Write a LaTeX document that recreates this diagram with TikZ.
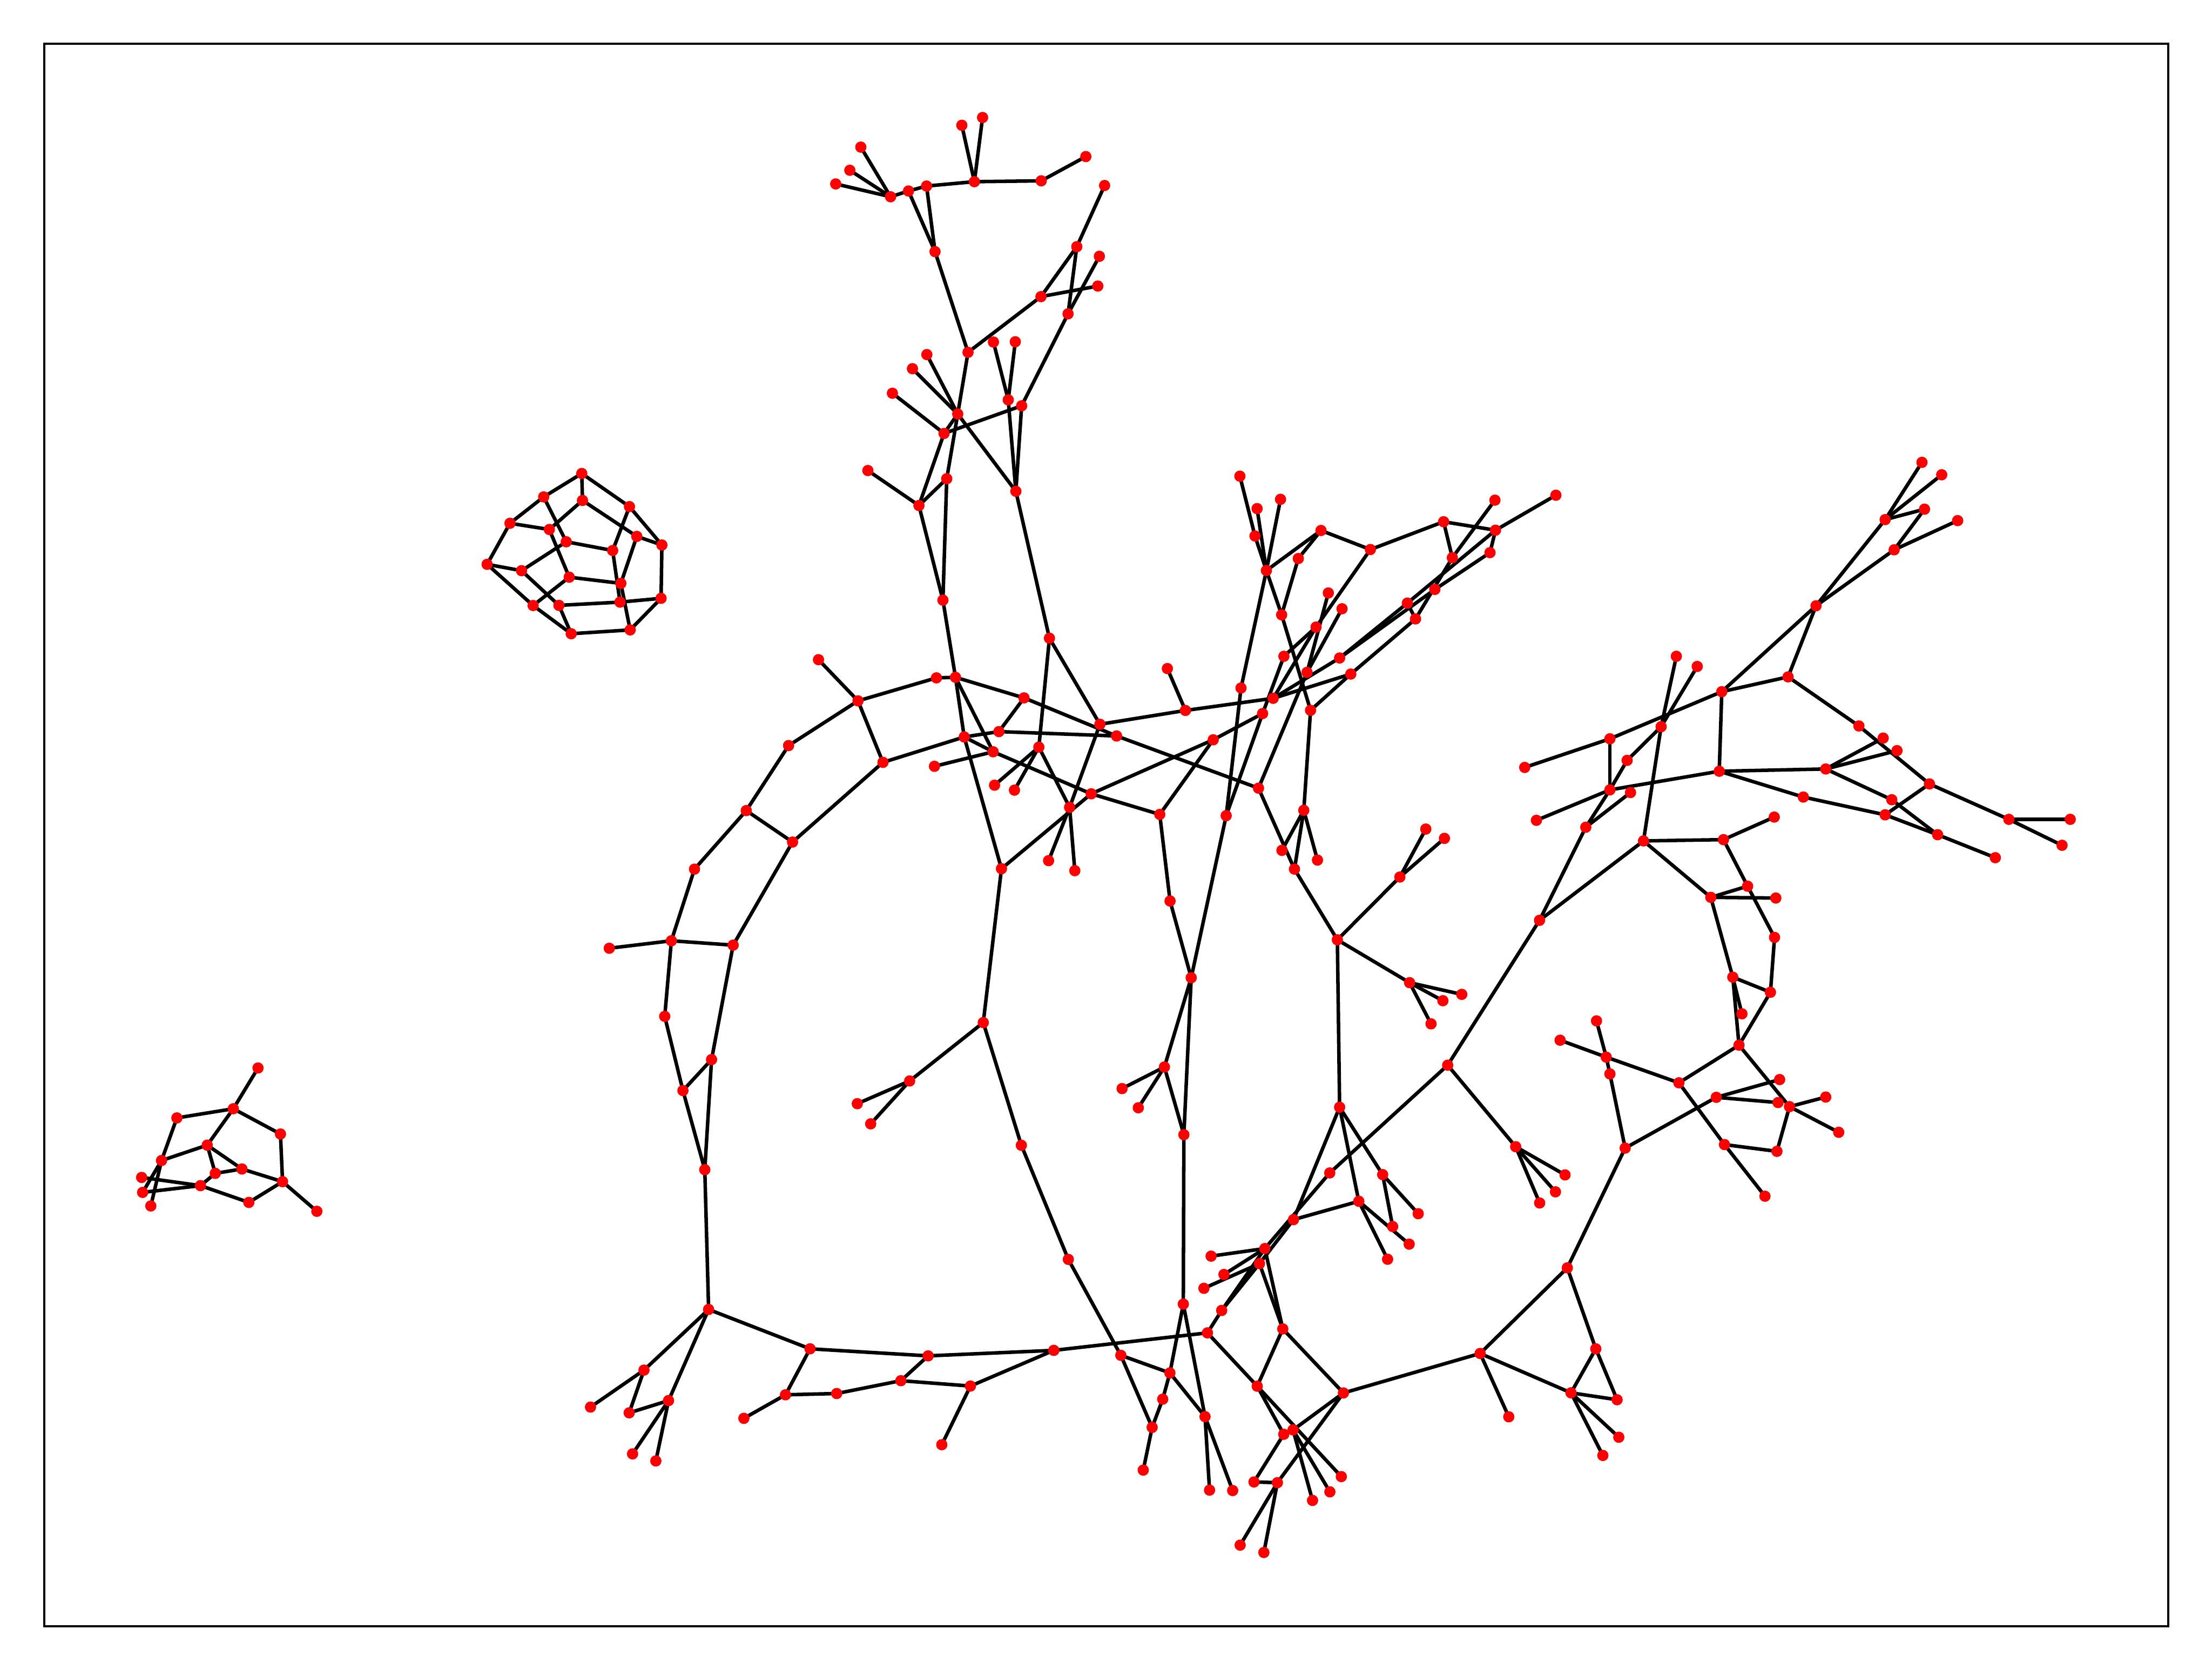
\documentclass[tikz,border=0pt]{standalone}
\usetikzlibrary{backgrounds}
\begin{document}
\begin{tikzpicture}[x=0.3pt,y=-0.3pt,
  dot/.style={circle,fill=red,draw=none,inner sep=0pt,minimum size=2.4pt},
  edge/.style={line width=0.75pt,black},
  frame/.style={line width=0.5pt,black}]
\useasboundingbox (0,0) rectangle (1568,1184);
% nodes
\foreach \n/\x/\y in {
t1/592.4/130.4, t2/602.4/120.7, t3/610.2/104.3, t4/631.3/139.5, t5/644.0/135.4, t6/656.8/131.9, t7/690.7/128.8, t8/681.8/88.8, t9/696.5/83.3, t10/738.1/128.2, t11/769.7/111.0, t12/783.0/131.5, t13/662.8/178.4, t14/763.3/174.9, t15/779.3/181.7, t16/778.2/202.8, t17/737.9/210.3, t18/757.1/222.5, t19/686.2/249.8, t20/704.2/242.5, t21/719.7/242.3, t22/657.0/251.4, t23/646.8/261.4, t24/632.6/278.8, t25/678.9/293.5, t26/669.2/307.3, t27/714.7/283.5, t28/724.2/287.7, t29/615.2/333.6, t30/651.4/358.4, t31/671.1/339.4, t32/720.1/348.3,
m1/668.4/425.5, m2/743.9/452.5, m3/580.2/467.7, m4/608.2/496.9, m5/663.8/480.6, m6/677.3/480.2, m7/725.9/494.8, m8/779.7/513.5, m9/827.5/474.0, m10/840.3/503.7, m11/791.5/521.8, m12/708.1/518.7, m13/683.5/522.5, m14/704.0/533.0, m15/625.9/540.5, m16/662.4/543.3, m17/736.4/529.7, m18/705.0/556.7, m19/719.1/560.2, m20/773.5/562.8, m21/758.2/572.4, m22/822.1/577.4, m23/860.0/524.5, m24/559.0/528.6, m25/561.8/597.0, m26/709.9/615.9, m27/743.3/610.2, m28/761.9/617.3, m29/829.4/638.8,
u1/878.9/337.6, u2/891.1/360.6, u3/907.7/354.0, u4/889.6/380.0, u5/897.7/404.5, u6/936.4/376.1, u7/920.3/396.0, u8/971.4/389.6, u9/1023.3/369.9, u10/1059.7/354.6, u11/1102.9/351.1, u12/1060.1/375.9, u13/1029.5/395.4, u14/1056.2/391.8, u15/1017.1/417.9, u16/997.6/427.6, u17/1003.4/438.8, u18/941.6/420.4, u19/951.3/431.6, u20/908.5/435.9, u21/932.9/444.6, u22/910.1/465.3, u23/949.6/466.5, u24/926.5/476.7, u25/957.5/477.9, u28/879.7/487.8, u29/902.5/495.1, u30/895.0/505.9, u31/929.0/503.6, u33/892.1/558.8, u35/869.2/578.3, u36/924.2/574.5, u37/908.7/602.9, u38/1010.7/587.8, u39/1023.9/594.4,
r5/1362.4/327.8, r6/1376.4/336.6, r7/1364.2/361.0, r8/1336.3/368.4, r9/1387.7/369.1, r10/1342.7/389.8, r11/1287.3/429.5, r12/1267.5/479.9, r13/1220.5/490.4, r14/1188.3/465.3, r15/1203.1/472.5, r16/1177.5/515.2, r17/1141.2/523.8, r18/1080.8/544.1, r19/1153.4/539.1, r20/1141.2/560.0, r21/1155.8/561.9, r22/1089.1/581.6, r23/1124.1/586.5, r24/1218.7/546.8, r25/1294.2/545.2, r26/1317.7/514.7, r27/1334.9/523.3, r28/1344.7/532.2, r29/1278.3/565.1, r30/1367.7/555.8, r31/1341.0/567.0, r32/1336.3/577.7, r33/1373.5/591.8, r34/1414.4/608.1, r35/1424.0/580.9, r36/1467.5/580.9, r37/1461.7/599.3, r38/1165.0/596.2, r39/1221.7/595.3, r40/1257.7/579.3, r41/1238.8/628.3, r42/1212.7/636.2, r43/1258.8/636.7, r44/1091.3/652.5,
s5/1257.9/664.6, s6/1228.3/692.8, s7/1255.0/703.5, s8/1234.8/718.8, s9/1232.7/741.0, s11/1131.7/723.8, s12/1105.9/737.5, s13/1138.6/749.5, s14/1141.2/761.4, s15/1190.1/767.7, s16/1261.5/765.4, s17/1216.6/778.0, s18/1260.4/781.7, s19/1268.5/784.6, s20/1294.2/777.8, s21/1303.4/802.8, s22/1222.4/811.5, s23/1259.6/816.3, s24/1251.1/848.1, s25/1152.0/814.0, s26/1074.4/813.0, s27/1109.4/833.0, s28/1102.6/845.0, s29/1091.4/852.9, s30/1111.0/898.9,
va/917.6/616.2, vb/933.9/609.8, v1/1026.2/755.2, v3/844.4/693.2, v4/948.0/666.3, v5/992.3/621.8, v6/999.2/696.7, v7/1036.2/705.0, v8/1022.8/709.5, v9/1014.4/725.9, v10/825.4/756.5, v11/795.4/771.8, v12/806.9/785.4, v13/839.2/804.5, v14/949.6/785.0, v15/942.6/831.6, v16/980.1/832.8, v17/963.2/851.7, v18/1005.3/860.5, v19/987.2/869.6, v20/998.9/882.1, v21/983.6/892.8, v22/916.9/864.7, v23/896.6/885.2, v24/858.5/890.6, v25/867.6/903.6, v26/892.8/895.9,
w5/853.4/913.4, w6/838.8/924.6, w7/866.0/929.1, w8/855.9/945.0, w9/909.3/942.2, w11/829.3/973.4, w12/824.2/992.0, w13/816.7/1012.0, w14/810.4/1042.3, w15/854.2/1004.4, w16/857.4/1056.5, w17/873.8/1056.8, w18/891.2/982.8, w19/952.3/987.6, w20/910.0/1016.9, w21/916.6/1013.8, w22/888.9/1050.7, w23/905.5/1051.2, w24/950.8/1046.9, w25/942.7/1057.7, w26/930.4/1063.8, w27/879.1/1095.5, w28/895.9/1100.7, w31/1049.2/959.6, w32/1069.5/1004.5, w34/1131.2/956.3, w35/1113.6/987.5, w36/1146.3/992.4, w37/1147.5/1019.0, w38/1136.2/1031.9,
x1/502.3/928.4, x2/574.2/956.3, x3/657.9/961.3, x4/747.0/957.4, x5/757.3/892.9, x6/794.5/960.9, x7/456.5/971.4, x8/418.6/997.6, x9/446.0/1001.7, x10/473.9/993.0, x11/448.4/1030.8, x12/464.9/1035.8, x13/556.8/988.9, x14/593.1/988.0, x15/638.6/978.9, x16/687.9/982.7, x17/527.3/1005.6, x18/667.6/1024.3,
y7/529.0/574.7, y9/492.3/616.2, y10/475.9/667.0, y11/431.9/672.3, y12/519.7/670.1, y13/471.2/720.6, y14/504.4/751.2, y15/484.1/773.2, y16/499.6/829.3, y18/644.8/766.4, y19/607.7/782.5, y20/617.2/796.8,
n1/697.0/725.0, n2/724.0/812.0,
d1/412.4/335.7, d2/385.4/352.3, d3/412.9/354.8, d4/446.2/359.2, d5/361.5/371.0, d6/389.4/375.4, d7/451.4/380.3, d8/469.2/386.4, d9/401.4/384.1, d10/434.3/390.3, d11/345.3/400.1, d12/369.7/404.6, d13/403.5/409.2, d14/440.1/413.6, d15/468.6/424.2, d16/439.5/426.9, d17/377.9/429.3, d18/396.2/429.2, d19/404.9/449.3, d20/446.7/446.6,
k1/182.9/757.2, k2/165.4/786.1, k3/125.4/792.6, k4/198.8/804.0, k5/146.9/811.9, k6/114.5/822.8, k7/171.5/828.8, k8/152.6/831.9, k9/100.4/834.8, k10/200.3/837.8, k11/142.1/840.6, k12/101.1/845.4, k13/106.9/855.0, k14/176.4/852.5, k15/224.6/858.8}
  {\node[dot] (\n) at (\x,\y) {};}
% edges
\begin{scope}[on background layer]
\fill[white] (0,0) rectangle (1568,1184);
\foreach \a/\b in {
t1/t4, t2/t4, t3/t4, t4/t5, t5/t6, t6/t7, t7/t8, t7/t9, t7/t10, t10/t11, t5/t13, t6/t13, t13/t19, t12/t14, t14/t17, t14/t18, t15/t18, t16/t17, t17/t19, t18/t28, t19/t25, t22/t25, t23/t25, t24/t26, t25/t26, t26/t28, t25/t32, t20/t27, t21/t27, t27/t32, t28/t32, t25/t31, t26/t30, t29/t30, t30/t31, t30/m1, t31/m1, t32/m2,
m1/m6, m6/m13, m13/m26, m26/n1, m26/m20, m20/m23, m20/m22, m22/m23, m22/m29, m13/m15, m13/m12, m13/m14, m14/m20, m6/m14, m16/m14, m12/m11, m7/m12, m6/m7, m5/m6, m4/m5, m3/m4, m4/m24, m4/m15, m15/m25, m2/m17, m17/m18, m17/m19, m17/m21, m8/m21, m21/m27, m21/m28, m2/m8, m8/m10, m9/m10, m7/m11, m11/u33, m10/u29, m23/u30,
m24/y7, y7/y9, y9/y10, y10/y11, y10/y12, y10/y13, y13/y15, y15/y16, y15/y14, y14/y16, y16/x1, y7/m25, m25/y12, y12/y14, y18/y19, y18/y20, y18/n1, n1/n2, n2/x5,
x1/x2, x1/x7, x1/x10, x7/x8, x7/x9, x9/x10, x10/x11, x10/x12, x2/x3, x3/x4, x4/w8, x2/x13, x13/x14, x14/x15, x15/x3, x15/x16, x16/x4, x16/x18, x13/x17, x5/x6, x6/w11, x6/w13,
v13/w6, w6/w11, w11/w12, w12/w13, w13/w14, w6/w15, w11/w15, w15/w16, w15/w17, w7/w8, v23/w7, v26/w7, v23/w9, v26/w9, v26/w5, v23/v24, v23/v25, w9/w18, w9/w19, w8/w18, w18/w20, w18/w24, w19/w21, w21/w25, w21/w26, w20/w22, w19/w23, w22/w23, w23/w27, w23/w28, w19/w31, w31/w32, w31/w35, w31/s30, s30/w34, w34/w35, w34/w36, w35/w36, w35/w37, w35/w38,
m29/v3, u35/v3, v3/v10, v10/v11, v10/v12, v10/v13, v3/v13, va/v4, v5/v4, v5/u38, v5/u39, v4/v6, v6/v7, v6/v8, v6/v9, v4/v14, r44/v1, v1/s26, v1/v15, v15/v23, v14/v22, v14/v17, v14/v16, v16/v18, v16/v19, v17/v20, v17/v21, v17/v22, v22/v26,
r41/s5, s5/s7, r42/s6, s6/s7, s6/s8, s6/s9, s7/s9, s9/s15, s9/s19, s11/s13, s12/s13, s13/s14, s13/s15, s14/s25, s15/s22, s22/s24, s22/s23, s23/s19, s19/s20, s19/s21, s17/s16, s17/s18, s17/s25, s25/s30, s26/s27, s26/s28, s26/s29,
r8/r5, r8/r6, r8/r7, r10/r7, r10/r9, r11/r8, r11/r10, r11/r12, r11/r13, r12/r13, r12/r26, r26/r30, r25/r27, r25/r28, r30/r35, r35/r36, r35/r37, r30/r32, r25/r31, r31/r33, r24/r29, r29/r32, r32/r33, r33/r34, r24/r25, r13/r24, r24/r20, r20/r22, r20/r17, r17/r18, r17/r13, r14/r16, r15/r16, r16/r19, r19/r20, r16/r38, r20/r23, r21/r23, r23/r44, r38/r44, r38/r39, r39/r40, r39/r41, r38/r42, r42/r41, r42/r43,
u1/u4, u4/u5, u2/u5, u3/u5, u5/u6, u6/u7, u6/u8, u8/u9, u9/u12, u9/u13, u11/u12, u12/u14, u10/u13, u13/u17, u12/u16, u16/u23, u14/u15, u15/u23, u16/u17, u17/u25, u5/u28, u5/u20, u7/u20, u20/u31, u28/u35, u30/u35, u8/u21, u21/u29, u21/u22, u22/u30, u18/u24, u19/u24, u24/u33, u25/u31, u25/u29, u31/u36, u36/u37, u36/va, u36/vb, u33/va, u23/u29,
d1/d2, d1/d3, d1/d4, d2/d5, d2/d9, d3/d6, d3/d7, d4/d8, d4/d10, d5/d6, d5/d11, d6/d13, d7/d8, d7/d14, d8/d15, d9/d10, d9/d12, d10/d16, d11/d12, d11/d17, d12/d18, d13/d14, d13/d17, d14/d20, d15/d16, d15/d20, d16/d18, d17/d19, d18/d19, d19/d20,
k1/k2, k2/k3, k2/k4, k2/k5, k3/k6, k5/k6, k5/k7, k5/k8, k7/k8, k4/k10, k7/k10, k8/k11, k9/k11, k11/k12, k6/k12, k6/k13, k11/k14, k14/k10, k10/k15}
  {\draw[edge] (\a.center) -- (\b.center);}
\end{scope}
\draw[frame] (31.5,31) rectangle (1537,1153);
\end{tikzpicture}
\end{document}
